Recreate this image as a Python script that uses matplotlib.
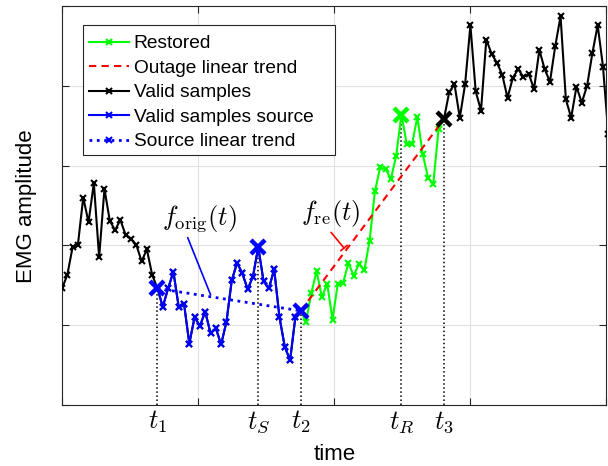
import matplotlib

matplotlib.use("Agg")
import matplotlib.pyplot as plt
import numpy as np
from matplotlib.lines import Line2D
from matplotlib.patches import Rectangle
from matplotlib.transforms import blended_transform_factory

plt.rcParams["font.family"] = ["Liberation Sans", "DejaVu Sans"]
plt.rcParams["mathtext.fontset"] = "cm"

# sample indices of the marked instants
t1, tS, t2, tR, t3 = 18, 37, 45, 64, 72
t_labels = ["$t_1$", "$t_S$", "$t_2$", "$t_R$", "$t_3$"]

# valid samples before the outage (index 0..45)
samples_pre = [
    1.46, 1.63, 1.98, 2.01, 2.60, 2.29, 2.78, 1.85, 2.71, 2.31,
    2.19, 2.32, 2.13, 2.08, 2.01, 1.80, 1.95, 1.63,
    1.46, 1.23, 1.46, 1.67, 1.23, 1.27, 0.77, 1.10, 0.99, 1.17,
    0.90, 0.96, 0.76, 1.04, 1.56, 1.78, 1.65, 1.45, 1.61, 1.98,
    1.55, 1.46, 1.70, 1.10, 0.73, 0.56, 1.10, 1.18,
]
# restored samples (index 45..72)
restored = [
    1.18, 1.04, 1.40, 1.68, 1.35, 1.52, 1.07, 1.52, 1.53, 1.78,
    1.62, 1.77, 1.69, 2.06, 2.68, 2.98, 2.96, 2.83, 3.12, 3.64,
    3.27, 3.27, 3.61, 3.15, 2.85, 2.77, 3.46, 3.58,
]
# valid samples after the outage (index 72..103)
samples_post = [
    3.58, 3.92, 4.02, 3.60, 4.02, 4.76, 3.93, 3.69, 4.58, 4.40,
    4.29, 4.14, 3.85, 4.10, 4.21, 4.11, 4.15, 3.96, 4.45, 4.21,
    4.05, 4.50, 4.87, 3.83, 3.60, 3.99, 3.79, 4.00, 4.41, 4.76,
    4.24, 3.40,
]

x_pre = np.arange(0, len(samples_pre))
x_res = np.arange(t2, t2 + len(restored))
x_post = np.arange(t3, t3 + len(samples_post))
x_src = np.arange(t1, t2 + 1)
y_src = np.array(samples_pre[t1:t2 + 1])

fig = plt.figure(figsize=(6.08, 4.66), dpi=100)
ax = fig.add_axes([0.102, 0.131, 0.895, 0.856])

small = dict(marker="x", markersize=4.6, markeredgewidth=1.5)
big = dict(marker="x", markersize=10, markeredgewidth=3.2, linestyle="none")
lw = 1.5

# vertical dotted markers of the instants
marks = [(t1, samples_pre[t1]), (tS, samples_pre[tS]), (t2, samples_pre[t2]),
         (tR, restored[tR - t2]), (t3, samples_post[0])]
for (xm, ym) in marks:
    ax.plot([xm, xm], [0, ym], color="black", linestyle=":", linewidth=1.1, zorder=1)

ax.plot(x_res, restored, color=(0, 1, 0), linewidth=lw, zorder=2, **small)
ax.plot([t2, t3], [samples_pre[t2], samples_post[0]], color="red",
        linestyle=(0, (3.5, 2.5)), linewidth=lw, zorder=3)
ax.plot(x_pre, samples_pre, color="black", linewidth=lw, zorder=4, **small)
ax.plot(x_post, samples_post, color="black", linewidth=lw, zorder=4, **small)
ax.plot(x_src, y_src, color="blue", linewidth=lw, zorder=5, **small)
ax.plot([t1, t2], [y_src[0], y_src[-1]], color="blue", linestyle=":", linewidth=2, zorder=5)

ax.plot([t1, tS, t2], [samples_pre[t1], samples_pre[tS], samples_pre[t2]],
        color="blue", zorder=6, **big)
ax.plot([tR], [restored[tR - t2]], color=(0, 1, 0), zorder=6, **big)
ax.plot([t3], [samples_post[0]], color="black", zorder=6, **big)

# annotations
ax.text(25.9, 2.34, r"$f_{\mathrm{orig}}(t)$", fontsize=19, ha="center", va="center")
ax.annotate("", xy=(28.2, 1.35), xytext=(23.5, 2.13),
            arrowprops=dict(arrowstyle="-", color="blue", linewidth=1.2))
ax.text(50.7, 2.40, r"$f_{\mathrm{re}}(t)$", fontsize=19, ha="center", va="center")
ax.annotate("", xy=(53.5, 1.94), xytext=(50.4, 2.19),
            arrowprops=dict(arrowstyle="-[, widthB=0.3, lengthB=0", color="red", linewidth=1.2))

trans = blended_transform_factory(ax.transData, ax.transAxes)
for (xm, _), lab in zip(marks, t_labels):
    ax.text(xm, -0.042, lab, fontsize=19, ha="center", va="center", transform=trans)

ax.set_xlim(0, 102.6)
ax.set_ylim(0, 5)
ax.set_xticks(np.linspace(0, 102.6, 5))
ax.set_yticks(np.arange(0, 6))
ax.set_xticklabels([])
ax.set_yticklabels([])
ax.tick_params(direction="in", length=5, top=True, right=True, color="#262626")
ax.grid(True, color="#e0e0e0", linewidth=0.8)
ax.set_axisbelow(True)
for sp in ax.spines.values():
    sp.set_color("#262626")
    sp.set_linewidth(0.8)

fig.text(0.55, 1 - 455 / 466, "time", fontsize=16, ha="center", va="center")
fig.text(27 / 608, 1 - 206 / 466, "EMG amplitude", fontsize=16, ha="center",
         va="center", rotation=90)

handles = [
    Line2D([], [], color=(0, 1, 0), linewidth=lw, **small),
    Line2D([], [], color="red", linestyle=(0, (3.5, 2.5)), linewidth=lw),
    Line2D([], [], color="black", linewidth=lw, **small),
    Line2D([], [], color="blue", linewidth=lw, **small),
    Line2D([], [], color="blue", linestyle=":", linewidth=2, **small),
]
labels = ["Restored", "Outage linear trend", "Valid samples",
          "Valid samples source", "Source linear trend"]

# legend box drawn separately (wider than its contents)
box = Rectangle((83 / 608, 1 - 155 / 466), 252 / 608, 130 / 466,
                transform=fig.transFigure, facecolor="white",
                edgecolor="#262626", linewidth=0.8, zorder=9, clip_on=False)
ax.add_patch(box)
leg = ax.legend(handles, labels, loc="upper left",
                bbox_to_anchor=((83 - 62) / 544, (405 - 29) / 399),
                borderaxespad=0, fontsize=13.8, frameon=False,
                handlelength=2.1, handletextpad=0.25,
                labelspacing=0.37, borderpad=0.3)
leg.set_zorder(10)

fig.savefig("out.png", dpi=100)
